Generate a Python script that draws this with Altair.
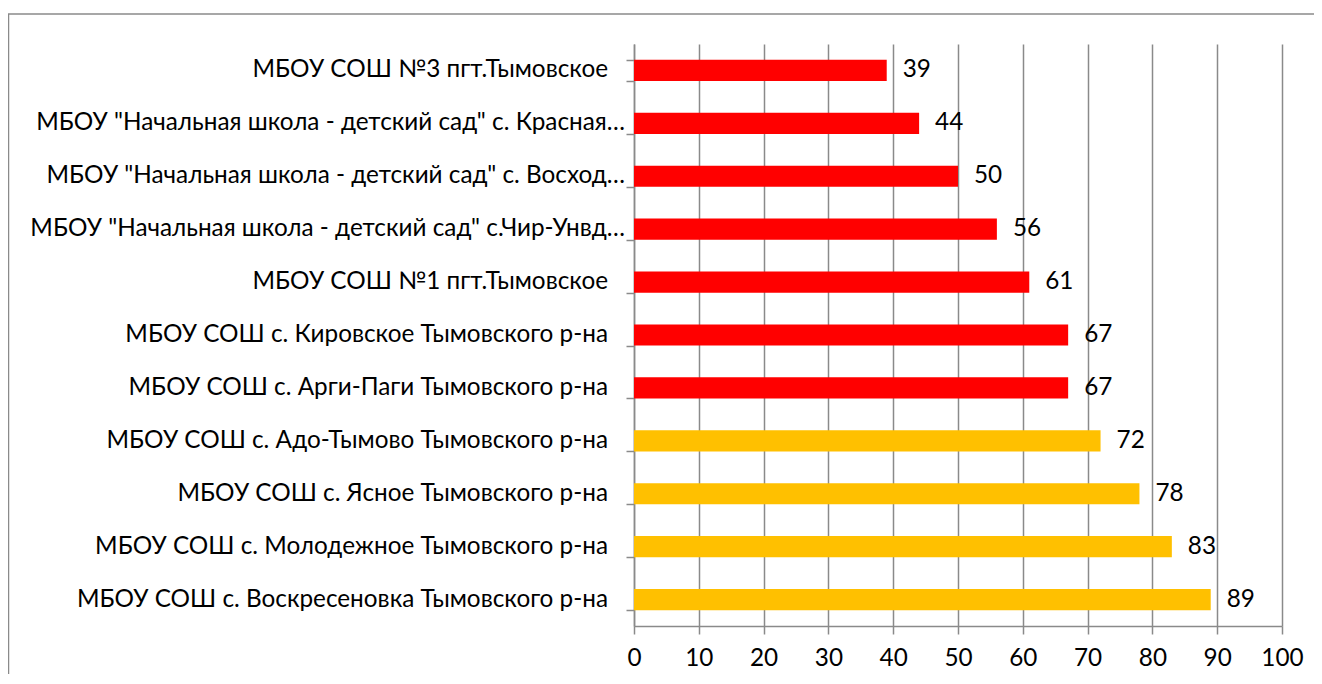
import altair as alt
import pandas as pd

schools = [
    "МБОУ СОШ №3 пгт.Тымовское",
    'МБОУ "Начальная школа - детский сад" с. Красная…',
    'МБОУ "Начальная школа - детский сад" с. Восход…',
    'МБОУ "Начальная школа - детский сад" с.Чир-Унвд…',
    "МБОУ СОШ №1 пгт.Тымовское",
    "МБОУ СОШ с. Кировское Тымовского р-на",
    "МБОУ СОШ с. Арги-Паги Тымовского р-на",
    "МБОУ СОШ с. Адо-Тымово Тымовского р-на",
    "МБОУ СОШ с. Ясное Тымовского р-на",
    "МБОУ СОШ с. Молодежное Тымовского р-на",
    "МБОУ СОШ с. Воскресеновка Тымовского р-на",
]
values = [39, 44, 50, 56, 61, 67, 67, 72, 78, 83, 89]
groups = ["низкий", "низкий", "низкий", "низкий", "низкий", "низкий", "низкий",
          "высокий", "высокий", "высокий", "высокий"]
x_ticks = [0, 10, 20, 30, 40, 50, 60, 70, 80, 90, 100]

df = pd.DataFrame({"school": schools, "value": values, "group": groups})

FONT = "Lato"
FS = 24.3
GRAY = "#8a8a8a"

y_scale = alt.Scale(paddingInner=0.6, paddingOuter=0.3)

y_enc = alt.Y(
    "school:N",
    sort=schools,
    title=None,
    scale=y_scale,
    axis=alt.Axis(
        tickBand="extent",
        tickSize=8,
        tickColor=GRAY,
        tickWidth=1.5,
        domainColor=GRAY,
        domainWidth=1.5,
        labels=False,
    ),
)

x_enc = alt.X(
    "value:Q",
    title=None,
    scale=alt.Scale(domain=[0, 100], nice=False),
    axis=alt.Axis(
        values=x_ticks,
        grid=True,
        gridColor=GRAY,
        gridWidth=1.5,
        tickSize=8,
        tickColor=GRAY,
        tickWidth=1.5,
        domainColor=GRAY,
        domainWidth=1.5,
        labelFont=FONT,
        labelFontSize=FS,
        labelColor="black",
        labelPadding=12,
        labelFlush=False,
    ),
)

bars = alt.Chart(df).mark_bar().encode(
    y=y_enc,
    x=x_enc,
    color=alt.Color(
        "group:N",
        scale=alt.Scale(domain=["низкий", "высокий"], range=["#FF0000", "#FFC000"]),
        legend=None,
    ),
)

values_text = alt.Chart(df).mark_text(
    align="left", baseline="middle", dx=16, font=FONT, fontSize=FS, color="black"
).encode(
    y=alt.Y("school:N", sort=schools),
    x=alt.X("value:Q"),
    text=alt.Text("value:Q"),
)

names_cut = alt.Chart(df).transform_filter(
    "indexof(datum.school, '…') >= 0"
).mark_text(
    align="right", baseline="middle", font=FONT, fontSize=FS, color="black"
).encode(
    y=alt.Y("school:N", sort=schools),
    x=alt.value(-9),
    text="school:N",
)

names_full = alt.Chart(df).transform_filter(
    "indexof(datum.school, '…') < 0"
).mark_text(
    align="right", baseline="middle", font=FONT, fontSize=FS, color="black"
).encode(
    y=alt.Y("school:N", sort=schools),
    x=alt.value(-26),
    text="school:N",
)

frame_top = alt.Chart(alt.Data(values=[{}])).mark_rule(
    stroke=GRAY, strokeWidth=1.5
).encode(
    x=alt.value(-626), x2=alt.value(720), y=alt.value(-30)
)

frame_left = alt.Chart(alt.Data(values=[{}])).mark_rule(
    stroke=GRAY, strokeWidth=1.5
).encode(
    x=alt.value(-625.5), y=alt.value(-30), y2=alt.value(720)
)

chart = alt.layer(frame_top, frame_left, bars, values_text, names_cut, names_full).properties(
    width=648,
    height=582,
    autosize=alt.AutoSizeParams(type="none"),
    padding={"left": 626, "top": 36, "right": 32, "bottom": 48},
).configure_view(stroke=None)

chart.save("out.html", embed_options={"renderer": "svg", "actions": False})
